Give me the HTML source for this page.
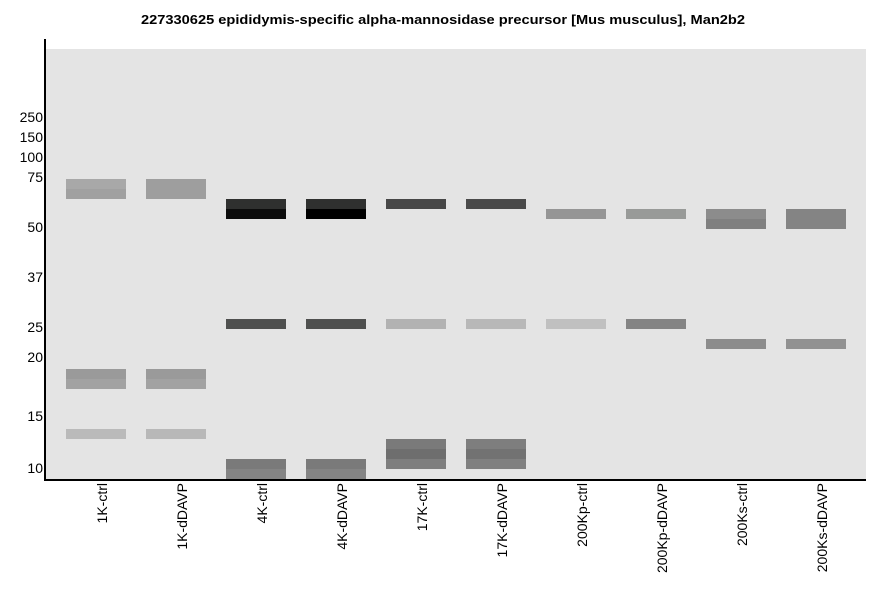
<!DOCTYPE html>
<html><head><meta charset="utf-8"><style>
html,body{margin:0;padding:0;background:#fff;}
svg{display:block;}
text{font-family:"Liberation Sans",Arial,sans-serif;}
</style></head><body>
<svg width="886" height="595" viewBox="0 0 886 595" xmlns="http://www.w3.org/2000/svg">
<rect width="886" height="595" fill="#fff"/>
<text x="443" y="24" text-anchor="middle" font-size="12.5" font-weight="bold" textLength="604" lengthAdjust="spacingAndGlyphs" fill="#000">227330625 epididymis-specific alpha-mannosidase precursor [Mus musculus], Man2b2</text>
<rect x="46" y="49" width="820" height="430" fill="#e4e4e4"/>
<!-- lane 0 -->
<rect x="66" y="179" width="60" height="10" fill="#a8a8a8"/>
<rect x="66" y="189" width="60" height="10" fill="#a0a0a0"/>
<rect x="66" y="369" width="60" height="10" fill="#9a9a9a"/>
<rect x="66" y="379" width="60" height="10" fill="#a2a2a2"/>
<rect x="66" y="429" width="60" height="10" fill="#bababa"/>
<!-- lane 1 -->
<rect x="146" y="179" width="60" height="20" fill="#9e9e9e"/>
<rect x="146" y="369" width="60" height="10" fill="#9a9a9a"/>
<rect x="146" y="379" width="60" height="10" fill="#a2a2a2"/>
<rect x="146" y="429" width="60" height="10" fill="#b8b8b8"/>
<!-- lane 2 -->
<rect x="226" y="199" width="60" height="10" fill="#2f302f"/>
<rect x="226" y="209" width="60" height="10" fill="#0c0c0c"/>
<rect x="226" y="319" width="60" height="10" fill="#4f504f"/>
<rect x="226" y="459" width="60" height="10" fill="#7a7a7a"/>
<rect x="226" y="469" width="60" height="10" fill="#848484"/>
<!-- lane 3 -->
<rect x="306" y="199" width="60" height="10" fill="#2f302f"/>
<rect x="306" y="209" width="60" height="10" fill="#000000"/>
<rect x="306" y="319" width="60" height="10" fill="#4f504f"/>
<rect x="306" y="459" width="60" height="10" fill="#7a7a7a"/>
<rect x="306" y="469" width="60" height="10" fill="#848484"/>
<!-- lane 4 -->
<rect x="386" y="199" width="60" height="10" fill="#474747"/>
<rect x="386" y="319" width="60" height="10" fill="#b2b2b2"/>
<rect x="386" y="439" width="60" height="10" fill="#7a7a7a"/>
<rect x="386" y="449" width="60" height="10" fill="#6e6e6e"/>
<rect x="386" y="459" width="60" height="10" fill="#7e7e7e"/>
<!-- lane 5 -->
<rect x="466" y="199" width="60" height="10" fill="#4a4a4a"/>
<rect x="466" y="319" width="60" height="10" fill="#b8b8b8"/>
<rect x="466" y="439" width="60" height="10" fill="#7e7e7e"/>
<rect x="466" y="449" width="60" height="10" fill="#727272"/>
<rect x="466" y="459" width="60" height="10" fill="#808080"/>
<!-- lane 6 -->
<rect x="546" y="209" width="60" height="10" fill="#959595"/>
<rect x="546" y="319" width="60" height="10" fill="#c0c0c0"/>
<!-- lane 7 -->
<rect x="626" y="209" width="60" height="10" fill="#989a98"/>
<rect x="626" y="319" width="60" height="10" fill="#848484"/>
<!-- lane 8 -->
<rect x="706" y="209" width="60" height="10" fill="#8c8c8c"/>
<rect x="706" y="219" width="60" height="10" fill="#808080"/>
<rect x="706" y="339" width="60" height="10" fill="#8c8c8c"/>
<!-- lane 9 -->
<rect x="786" y="209" width="60" height="20" fill="#848484"/>
<rect x="786" y="339" width="60" height="10" fill="#919191"/>
<!-- axes -->
<rect x="44" y="39" width="2" height="442" fill="#000"/>
<rect x="44" y="479" width="822" height="2" fill="#000"/>
<!-- y tick labels -->
<g font-size="14" text-anchor="end" fill="#000">
<text x="43" y="122">250</text>
<text x="43" y="142">150</text>
<text x="43" y="162">100</text>
<text x="43" y="182">75</text>
<text x="43" y="232">50</text>
<text x="43" y="282">37</text>
<text x="43" y="332">25</text>
<text x="43" y="362">20</text>
<text x="43" y="421">15</text>
<text x="43" y="473">10</text>
</g>
<!-- x labels -->
<g font-size="14" text-anchor="end" fill="#000">
<text transform="translate(107,483) rotate(-90)">1K-ctrl</text>
<text transform="translate(187,483) rotate(-90)">1K-dDAVP</text>
<text transform="translate(267,483) rotate(-90)">4K-ctrl</text>
<text transform="translate(347,483) rotate(-90)">4K-dDAVP</text>
<text transform="translate(427,483) rotate(-90)">17K-ctrl</text>
<text transform="translate(507,483) rotate(-90)">17K-dDAVP</text>
<text transform="translate(587,483) rotate(-90)">200Kp-ctrl</text>
<text transform="translate(667,483) rotate(-90)">200Kp-dDAVP</text>
<text transform="translate(747,483) rotate(-90)">200Ks-ctrl</text>
<text transform="translate(827,483) rotate(-90)">200Ks-dDAVP</text>
</g>
</svg>
</body></html>
